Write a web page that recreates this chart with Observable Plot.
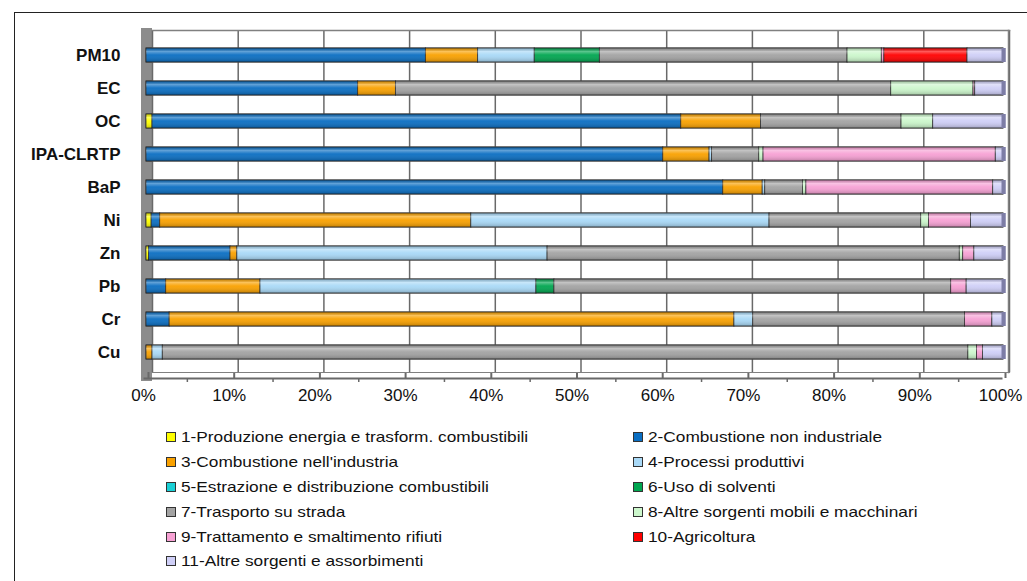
<!DOCTYPE html>
<html>
<head>
<meta charset="utf-8">
<script src="https://cdn.jsdelivr.net/npm/d3@7"></script>
<script src="https://cdn.jsdelivr.net/npm/@observablehq/plot@0.6"></script>
<style>
  html, body { margin: 0; padding: 0; background: #fff; width: 1027px; height: 581px; overflow: hidden; font-family: "Liberation Sans", Arial, sans-serif; }
  #frame { position: absolute; left: 14px; top: 12px; width: 1100px; height: 700px; border: 1.5px solid #222; box-sizing: border-box; }
  #chart { position: absolute; left: 0; top: 0; }
  #legend { position: absolute; left: 166px; top: 428px; display: grid; grid-template-columns: 467px 380px; row-gap: 6.9px; font-size: 14.5px; color: #111; }
  .item { display: flex; align-items: center; height: 18px; white-space: nowrap; }
  .sw { width: 8px; height: 8px; border: 1px solid #333; margin-right: 5px; display: inline-block; flex: none; }
  .txt { display: inline-block; transform: scaleX(1.19); transform-origin: left center; }
</style>
</head>
<body>
<svg width="0" height="0" style="position:absolute">
  <defs>
    <linearGradient id="shine" x1="0" y1="0" x2="0" y2="1">
      <stop offset="0" stop-color="#000" stop-opacity="0.18"/>
      <stop offset="0.25" stop-color="#fff" stop-opacity="0.35"/>
      <stop offset="0.5" stop-color="#fff" stop-opacity="0.05"/>
      <stop offset="1" stop-color="#000" stop-opacity="0.22"/>
    </linearGradient>
  </defs>
</svg>
<div id="frame"></div>
<div id="chart"></div>
<div id="legend"></div>
<script>
const categories = ["PM10","EC","OC","IPA-CLRTP","BaP","Ni","Zn","Pb","Cr","Cu"];
const sources = [
  "1-Produzione energia e trasform. combustibili",
  "2-Combustione non industriale",
  "3-Combustione nell'industria",
  "4-Processi produttivi",
  "5-Estrazione e distribuzione combustibili",
  "6-Uso di solventi",
  "7-Trasporto su strada",
  "8-Altre sorgenti mobili e macchinari",
  "9-Trattamento e smaltimento rifiuti",
  "10-Agricoltura",
  "11-Altre sorgenti e assorbimenti"
];
const colors = ["#ffff00","#0a6ec2","#f9a100","#a9d9f7","#1ad0d6","#00a650","#a3a3a3","#ccf7cc","#f7a1d4","#ff0000","#cfcff7"];

// percentage share per category (order as categories)
const s1  = [0,    0,    0.7,  0,    0,    0.6,  0.3,  0,    0,    0];
const s2  = [32.6, 24.7, 61.7, 60.3, 67.3, 1.0,  9.5,  2.3,  2.7,  0];
const s3  = [6.1,  4.4,  9.3,  5.4,  4.6,  36.3, 0.8,  11.0, 65.9, 0.7];
const s4  = [6.6,  0,    0,    0.3,  0.3,  34.8, 36.2, 32.2, 2.2,  1.2];
const s5  = [0,    0,    0,    0,    0,    0,    0,    0,    0,    0];
const s6  = [7.6,  0,    0,    0,    0,    0,    0,    2.1,  0,    0];
const s7  = [28.9, 57.8, 16.4, 5.5,  4.4,  17.7, 48.1, 46.3, 24.7, 94.0];
const s8  = [4.0,  9.6,  3.7,  0.5,  0.4,  0.9,  0.4,  0,    0,    1.0];
const s9  = [0.3,  0.2,  0,    27.1, 21.8, 4.9,  1.3,  1.8,  3.2,  0.7];
const s10 = [9.7,  0,    0,    0,    0,    0,    0,    0,    0,    0];
const s11 = [4.2,  3.3,  8.2,  0.9,  1.2,  3.8,  3.4,  4.3,  1.3,  2.4];
const series = [s1,s2,s3,s4,s5,s6,s7,s8,s9,s10,s11];

const xTicks = [0,10,20,30,40,50,60,70,80,90,100];
const xMinor = [5,15,25,35,45,55,65,75,85,95];

const data = [];
categories.forEach((c, ci) => {
  sources.forEach((s, si) => {
    const v = series[si][ci];
    if (v > 0) data.push({category: c, source: s, value: v});
  });
});
const totals = categories.map((c, ci) => ({category: c, total: d3.sum(series, s => s[ci])}));

const stackOpts = {x: "value", y: "category", z: "source", order: sources};
const barMarks = () => [
  Plot.barX(data, Plot.stackX({...stackOpts, fill: "source", stroke: "#2a2a2a", strokeWidth: 0.8})),
  Plot.barX(data, Plot.stackX({...stackOpts, fill: "url(#shine)"})),
  Plot.tickX(totals, {x: "total", y: "category", stroke: "#7d7da6", strokeWidth: 4})
];

const chart = Plot.plot({
  width: 1027,
  height: 412,
  marginLeft: 146,
  marginRight: 24,
  marginTop: 30,
  marginBottom: 40,
  style: {fontFamily: "Liberation Sans, Arial, sans-serif", background: "transparent"},
  x: {domain: [0, 100], label: null},
  y: {domain: categories, paddingInner: 0.58, paddingOuter: 0.352, align: 0.584, label: null},
  color: {domain: sources, range: colors},
  marks: [
    Plot.frame({anchor: "left", stroke: "#8c8c8c", strokeWidth: 11, dy: 3}),
    ...barMarks(),
    Plot.axisX({ticks: xMinor, tickSize: 4, tickFormat: () => "", dx: -2, dy: 6, stroke: "dimgray", strokeWidth: 1.5, label: null}),
    Plot.axisX({ticks: xTicks, tickSize: 6, tickFormat: () => "", dx: 2, stroke: "dimgray", strokeWidth: 2, label: null}),
    Plot.axisX({ticks: xTicks, tickSize: 0, tickPadding: 16, tickFormat: d => d + "%", dx: -3, fontSize: 17, fill: "#111", label: null}),
    Plot.axisY({tickSize: 0, tickPadding: 26, fontSize: 17, fontWeight: "bold", fill: "#111", label: null}),
    Plot.ruleX(xTicks, {stroke: "dimgray", strokeWidth: 1.5, dx: 6}),
    Plot.frame({anchor: "top", stroke: "gray", strokeWidth: 1.5, dx: 6}),
    Plot.frame({anchor: "right", stroke: "gray", strokeWidth: 1.5, dx: 5}),
    Plot.frame({anchor: "bottom", stroke: "gray", strokeWidth: 1.2, dx: 6}),
    Plot.frame({anchor: "bottom", stroke: "dimgray", strokeWidth: 2, dx: -2, dy: 6}),
    ...barMarks()
  ]
});
document.getElementById("chart").appendChild(chart);

const legend = document.getElementById("legend");
sources.forEach((s, i) => {
  const item = document.createElement("div");
  item.className = "item";
  const sw = document.createElement("span");
  sw.className = "sw";
  sw.style.background = colors[i];
  item.appendChild(sw);
  const t = document.createElement("span");
  t.className = "txt";
  t.textContent = s;
  item.appendChild(t);
  legend.appendChild(item);
});
</script>
</body>
</html>
